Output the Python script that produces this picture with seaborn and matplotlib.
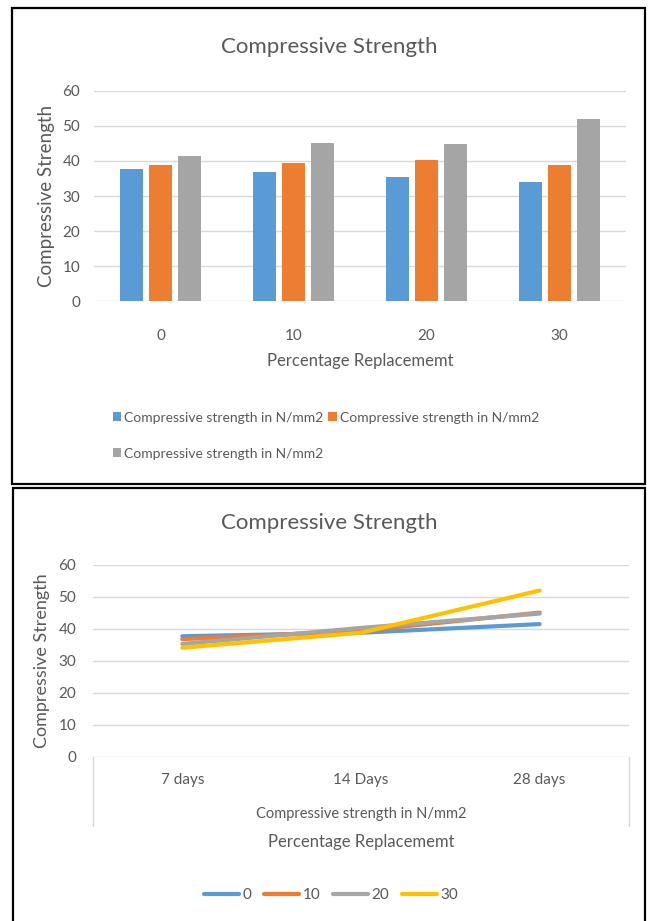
import matplotlib
matplotlib.use("Agg")
import matplotlib.pyplot as plt
from matplotlib.patches import Rectangle
import numpy as np
import pandas as pd
import seaborn as sns

# values (N/mm2)
replacement = ["0", "10", "20", "30"]
ages = ["7 days", "14 Days", "28 days"]
strength_7 = [37.7, 36.8, 35.3, 34.1]
strength_14 = [38.8, 39.4, 40.3, 38.8]
strength_28 = [41.5, 45.1, 44.8, 52.0]
legend_label = "Compressive strength in N/mm2"

colors = ["#5B9BD5", "#ED7D31", "#A5A5A5", "#FFC000"]
txt = "#595959"
grid = "#D9D9D9"

sns.set_theme(style="white")
plt.rcParams["font.family"] = ["Lato", "DejaVu Sans"]

W, H = 649, 921
fig = plt.figure(figsize=(W / 100, H / 100), dpi=100)


def box(x0, y0, x1, y1):
    # pixel box, top-left origin -> figure fraction
    return [x0 / W, 1 - y1 / H, (x1 - x0) / W, (y1 - y0) / H]


def ftext(x, y, s, **kw):
    fig.text(x / W, 1 - y / H, s, ha="center", va="center", color=txt, **kw)


# panel frames
fig.add_artist(Rectangle((12 / W, 1 - 484 / H), 633 / W, 476 / H, transform=fig.transFigure,
                         fill=False, ec="black", lw=1.6))
fig.add_artist(Rectangle((13 / W, 1 - 930 / H), 632 / W, 442 / H, transform=fig.transFigure,
                         fill=False, ec="black", lw=1.6))

# ---- bar chart ----
df_bar = pd.DataFrame({
    "pct": replacement * 3,
    "age": np.repeat(ages, len(replacement)),
    "value": strength_7 + strength_14 + strength_28,
})

ax1 = fig.add_axes(box(94, 90.7, 626, 301.3))
sns.barplot(data=df_bar, x="pct", y="value", hue="age", hue_order=ages,
            palette=colors[:3], saturation=1, width=0.66, gap=0.2,
            linewidth=0, ax=ax1)
ax1.set_xlim(-0.5, 3.5)
ax1.set_ylim(0, 60)
ax1.set_yticks(range(0, 61, 10))
ax1.yaxis.grid(True, color=grid, lw=1)
ax1.set_axisbelow(True)
sns.despine(ax=ax1, left=True, bottom=True)
ax1.tick_params(axis="both", length=0, colors=txt, labelsize=11)
ax1.tick_params(axis="x", pad=20)
ax1.tick_params(axis="y", pad=10)
ax1.set_xlabel("")
ax1.set_ylabel("Compressive Strength", fontsize=13.5, color=txt, labelpad=5)

handles, labels = ax1.get_legend_handles_labels()
ax1.legend_.remove()
order = [0, 2, 1]
ax1.legend([handles[i] for i in order], [legend_label] * 3, ncol=2,
           loc="upper left", bbox_to_anchor=(100 / W, 1 - 399 / H),
           bbox_transform=fig.transFigure, frameon=False, fontsize=10,
           labelcolor=txt, handlelength=0.6, handleheight=0.6,
           handletextpad=0.2, columnspacing=0.4, labelspacing=1.75)

ftext(329, 47, "Compressive Strength", fontsize=16)
ftext(360, 361, "Percentage Replacememt", fontsize=12)

# ---- line chart ----
per_age = [strength_7, strength_14, strength_28]
df_line = pd.DataFrame([
    {"age": j, "pct": p, "value": per_age[j][i]}
    for i, p in enumerate(replacement) for j in range(len(ages))
])

ax2 = fig.add_axes(box(93, 565, 629, 756.7))
sns.lineplot(data=df_line, x="age", y="value", hue="pct", hue_order=replacement,
             palette=colors, linewidth=3, ax=ax2)
ax2.set_xlim(-0.5, 2.5)
ax2.set_ylim(0, 60)
ax2.set_yticks(range(0, 61, 10))
ax2.set_xticks(range(len(ages)), ages)
ax2.yaxis.grid(True, color=grid, lw=1)
ax2.set_axisbelow(True)
sns.despine(ax=ax2, left=True, bottom=True)
ax2.tick_params(axis="both", length=0, colors=txt, labelsize=11)
ax2.tick_params(axis="x", pad=12)
ax2.tick_params(axis="y", pad=12)
ax2.set_xlabel("")
ax2.set_ylabel("Compressive Strength", fontsize=13, color=txt, labelpad=6)

# multi-level category box under the axis
for xa in (0, 1):
    ax2.plot([xa, xa], [0, -0.36], transform=ax2.transAxes, color=grid,
             lw=1, clip_on=False)

handles, labels = ax2.get_legend_handles_labels()
ax2.legend_.remove()
ax2.legend(handles, replacement, ncol=4, loc="center",
           bbox_to_anchor=(331 / W, 1 - 895 / H), bbox_transform=fig.transFigure,
           frameon=False, fontsize=11, labelcolor=txt, handlelength=2.3,
           handletextpad=0.2, columnspacing=0.85)

ftext(329, 523, "Compressive Strength", fontsize=16)
ftext(361, 814, legend_label, fontsize=10.5)
ftext(361, 842, "Percentage Replacememt", fontsize=12)

fig.savefig("out.png", dpi=100)
